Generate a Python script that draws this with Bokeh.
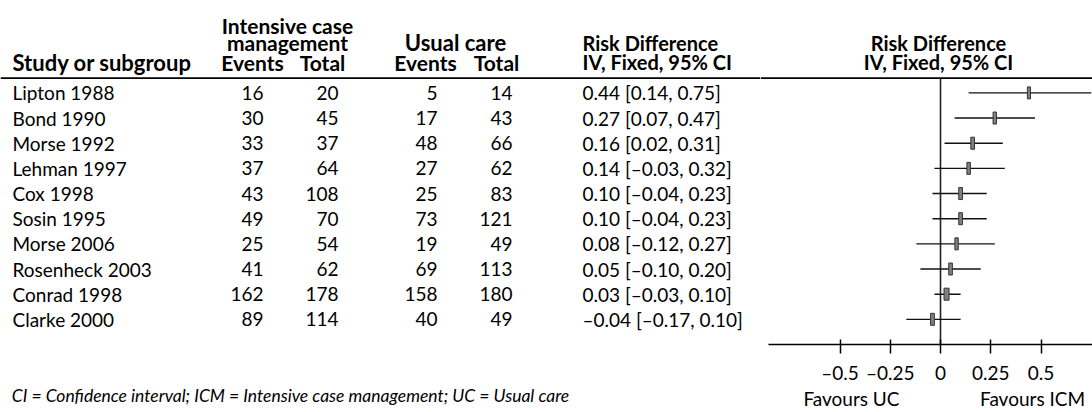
import numpy as np
from bokeh.plotting import figure
from bokeh.layouts import row
from bokeh.models import Range1d, LinearAxis, FixedTicker, ColumnDataSource
from bokeh.core.properties import value
from bokeh.embed import file_html
from bokeh.resources import INLINE

# ---------------- data ----------------
studies = ["Lipton 1988", "Bond 1990", "Morse 1992", "Lehman 1997", "Cox 1998",
           "Sosin 1995", "Morse 2006", "Rosenheck 2003", "Conrad 1998", "Clarke 2000"]
icm_events = [16, 30, 33, 37, 43, 49, 25, 41, 162, 89]
icm_total = [20, 45, 37, 64, 108, 70, 54, 62, 178, 114]
uc_events = [5, 17, 48, 27, 25, 73, 19, 69, 158, 40]
uc_total = [14, 43, 66, 62, 83, 121, 49, 113, 180, 49]
rd = [0.44, 0.27, 0.16, 0.14, 0.10, 0.10, 0.08, 0.05, 0.03, -0.04]
ci_low = [0.14, 0.07, 0.02, -0.03, -0.04, -0.04, -0.12, -0.10, -0.03, -0.17]
ci_high = [0.75, 0.47, 0.31, 0.32, 0.23, 0.23, 0.27, 0.20, 0.10, 0.10]
axis_ticks = [-0.5, -0.25, 0, 0.25, 0.5]
axis_tick_labels = ["\u20130.5", "\u20130.25", "0", "0.25", "0.5"]
favours_labels = ["Favours UC", "Favours ICM"]
footnote = "CI = Confidence interval; ICM = Intensive case management; UC = Usual care"

# ---------------- layout constants (page pixels) ----------------
W, H = 1092, 412
SPLIT = 760            # left table figure | right forest figure
FRAME_H = 350          # axis line of forest
BOTTOM = H - FRAME_H
ROW0 = 94              # y of first study row
PITCH = 25.6
ZERO_X = 940           # pixel of RD = 0
PX_PER_UNIT = 201.0
RULE_Y = 79
RULE_IDX = (RULE_Y - ROW0) / PITCH
AXIS_IDX = (FRAME_H - ROW0) / PITCH
FONT = "Lato"
FS = "19px"

def fmt(v):
    s = f"{abs(v):.2f}"
    return "\u2013" + s if v < 0 else s

n = len(studies)
p1 = np.array(icm_events) / np.array(icm_total)
p2 = np.array(uc_events) / np.array(uc_total)
var = p1 * (1 - p1) / np.array(icm_total) + p2 * (1 - p2) / np.array(uc_total)
wt = 1 / var
box_w = 2.6 + 2.4 * np.sqrt(wt / wt.max())

src = ColumnDataSource(dict(
    idx=list(range(n)),
    study=studies,
    ie=[str(v) for v in icm_events],
    it=[str(v) for v in icm_total],
    ue=[str(v) for v in uc_events],
    ut=[str(v) for v in uc_total],
    rdtxt=[f"{fmt(r)} [{fmt(l)}, {fmt(h)}]" for r, l, h in zip(rd, ci_low, ci_high)],
    rd=rd, lo=ci_low, hi=ci_high, bw=box_w,
    x_name=[12] * n, x_ie=[263] * n, x_it=[338] * n, x_ue=[437] * n, x_ut=[512] * n, x_rd=[582] * n,
))

def base_fig(width, xr, px_range):
    f = figure(width=width, height=H, output_backend="svg", toolbar_location=None,
               x_range=xr, y_range=Range1d(AXIS_IDX, -ROW0 / PITCH),
               x_axis_type=None, y_axis_type=None,
               min_border_left=0, min_border_right=0, min_border_top=0, min_border_bottom=BOTTOM)
    f.outline_line_color = None
    f.background_fill_color = "white"
    f.border_fill_color = "white"
    f.extra_x_ranges = {"px": px_range}
    f.extra_y_ranges = {"py": Range1d(FRAME_H, 0)}
    return f

def header_rule(f, px_range):
    f.quad(left=[px_range.start], right=[px_range.end], top=[RULE_Y - 0.9], bottom=[RULE_Y + 0.9],
           x_range_name="px", y_range_name="py", fill_color="black", line_color=None)

def label_axis(ticks, labels, standoff, style="normal", size=FS, **kw):
    a = LinearAxis(ticker=FixedTicker(ticks=ticks),
                   major_label_overrides={t: l for t, l in zip(ticks, labels)}, **kw)
    a.axis_line_color = None
    a.major_tick_line_color = None
    a.minor_tick_line_color = None
    a.major_tick_in = 0
    a.major_tick_out = 0
    a.major_label_standoff = standoff
    a.major_label_text_font = FONT
    a.major_label_text_font_size = size
    a.major_label_text_font_style = style
    a.major_label_text_color = "black"
    return a

hdr = dict(text_font=value(FONT), text_font_style="bold", text_color="black",
           text_baseline="middle", y_range_name="py", x_range_name="px")
def header(fig, x, y, t, align, size="20px"):
    fig.text(x=[x], y=[y], text=[t], text_align=align, text_font_size=size, **hdr)

# ---------------- left: table ----------------
left_px = Range1d(0, SPLIT)
left = base_fig(SPLIT, Range1d(0, SPLIT), left_px)

txt = dict(text_font=value(FONT), text_font_size=FS, text_color="black", text_baseline="middle",
           source=src, x_range_name="px")
left.text(x="x_name", y="idx", text="study", text_align="left", **txt)
left.text(x="x_ie", y="idx", text="ie", text_align="right", **txt)
left.text(x="x_it", y="idx", text="it", text_align="right", **txt)
left.text(x="x_ue", y="idx", text="ue", text_align="right", **txt)
left.text(x="x_ut", y="idx", text="ut", text_align="right", **txt)
left.text(x="x_rd", y="idx", text="rdtxt", text_align="left", **txt)

header(left, 287, 25, "Intensive case", "center", "21px")
header(left, 287, 43, "management", "center", "21px")
header(left, 455, 43, "Usual care", "center", "22px")
header(left, 582, 43, "Risk Difference", "left")
header(left, 12, 63, "Study or subgroup", "left", "22px")
header(left, 252, 63, "Events", "center", "21px")
header(left, 322, 63, "Total", "center", "21px")
header(left, 425, 63, "Events", "center", "21px")
header(left, 496, 63, "Total", "center", "21px")
header(left, 582, 63, "IV, Fixed, 95% CI", "left")
header_rule(left, left_px)

# footnote row (below the frame, same row as the "Favours" labels)
left.add_layout(label_axis([290], [footnote], 40, style="italic", size="17.5px"), "below")

# ---------------- right: forest ----------------
x0 = (SPLIT - ZERO_X) / PX_PER_UNIT
x1 = (W - ZERO_X) / PX_PER_UNIT
right_px = Range1d(SPLIT, W)
right = base_fig(W - SPLIT, Range1d(x0, x1), right_px)

header(right, 938, 43, "Risk Difference", "center")
header(right, 938, 63, "IV, Fixed, 95% CI", "center")
header_rule(right, right_px)

right.segment(x0=[0], y0=[RULE_IDX], x1=[0], y1=[AXIS_IDX], line_color="#222222", line_width=1.6)
right.segment(x0="lo", y0="idx", x1="hi", y1="idx", source=src, line_color="#111111", line_width=1.4)
right.rect(x="rd", y="idx", width="bw", height=12, width_units="screen", height_units="screen",
           source=src, fill_color="#808080", line_color="#333333", line_width=1)

ax = LinearAxis(ticker=FixedTicker(ticks=axis_ticks),
                major_label_overrides={t: l for t, l in zip(axis_ticks, axis_tick_labels)},
                bounds=((768 - ZERO_X) / PX_PER_UNIT, x1))
ax.axis_line_color = "black"
ax.axis_line_width = 1.5
ax.major_tick_line_color = "black"
ax.major_tick_line_width = 1.5
ax.major_tick_in = 5
ax.major_tick_out = 9
ax.minor_tick_line_color = None
ax.major_label_standoff = 7
ax.major_label_text_font = FONT
ax.major_label_text_font_size = FS
ax.major_label_text_color = "black"
right.add_layout(ax, "below")

right.add_layout(label_axis([-0.443, 0.458], favours_labels, 0), "below")

layout = row(left, right)
open("out.html", "w").write(file_html(layout, INLINE))
